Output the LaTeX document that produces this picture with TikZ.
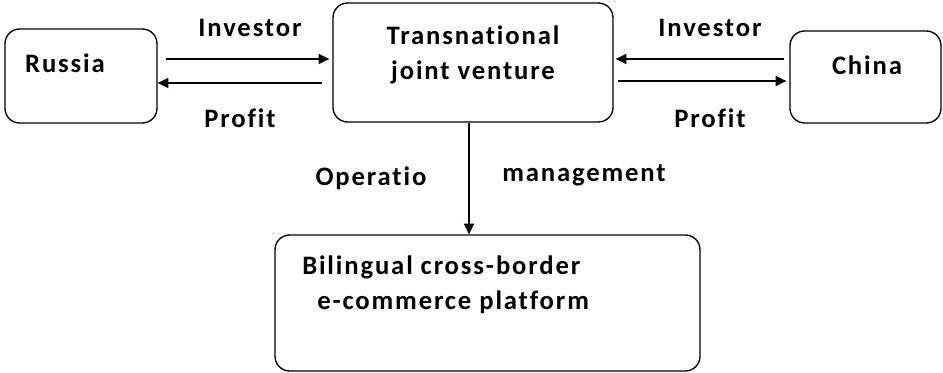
\documentclass[tikz,border=0pt]{standalone}
\usepackage{fontspec}
\setmainfont{Carlito}[Ligatures=NoCommon,LetterSpace=7]
\usetikzlibrary{arrows.meta,calc,positioning}
\tikzset{>={Triangle[length=8pt,width=7.5pt]}}
\tikzset{
  blk/.style={draw,line width=1pt,rounded corners=11pt,inner sep=0pt},
  txt/.style={font=\fontsize{20}{24}\selectfont\bfseries,inner sep=0pt},
  arr/.style={->,line width=1pt}
}
\begin{document}
\begin{tikzpicture}[x=0.75pt,y=-0.75pt]
\useasboundingbox (0,0) rectangle (943,373);
% boxes
\node[blk,minimum width=114pt,minimum height=70.5pt] (russia) at (81,76) {};
\node[blk,minimum width=210pt,minimum height=89.25pt] (tjv) at (473,62.5) {};
\node[blk,minimum width=113.25pt,minimum height=69pt] (china) at (865.5,77) {};
\node[blk,minimum width=318.75pt,minimum height=102pt] (plat) at (487.5,303) {};
% box texts
\node[txt] (russiatxt) at (65,63) {Russia};
\node[txt] (tjvtxt1) at (473,35) {Transnational};
\node[txt] (tjvtxt2) at (473,72) {joint venture};
\node[txt] (chinatxt) at (867,65) {China};
\node[txt,anchor=west] (plattxt1) at (302,267) {Bilingual cross-border};
\node[txt,anchor=west] (plattxt2) at (317,302) {e-commerce platform};
% flows
\draw[arr] ($(russia.east)+(8,-17)$) -- ($(tjv.west)+(-3,-3.5)$);
\draw[arr] ($(tjv.west)+(-10,20.5)$) -- ($(russia.east)+(0,7)$);
\draw[arr] ($(china.west)+(-5,-18)$) -- ($(tjv.east)+(2,-3.5)$);
\draw[arr] ($(tjv.east)+(4,18.5)$) -- ($(china.west)+(-3,4)$);
\coordinate (drop) at ($(tjv.south)+(-4,0)$);
\draw[arr] (drop) -- (drop |- plat.north);
% flow labels
\node[txt] (invl) at (250,28) {Investor};
\node[txt] (profl) at (240,118) {Profit};
\node[txt] (invr) at (710,28) {Investor};
\node[txt] (profr) at (710,118) {Profit};
\node[txt] (oper) at (371,178) {Operatio};
\node[txt] (mgmt) at (584,175) {management};
\end{tikzpicture}
\end{document}
